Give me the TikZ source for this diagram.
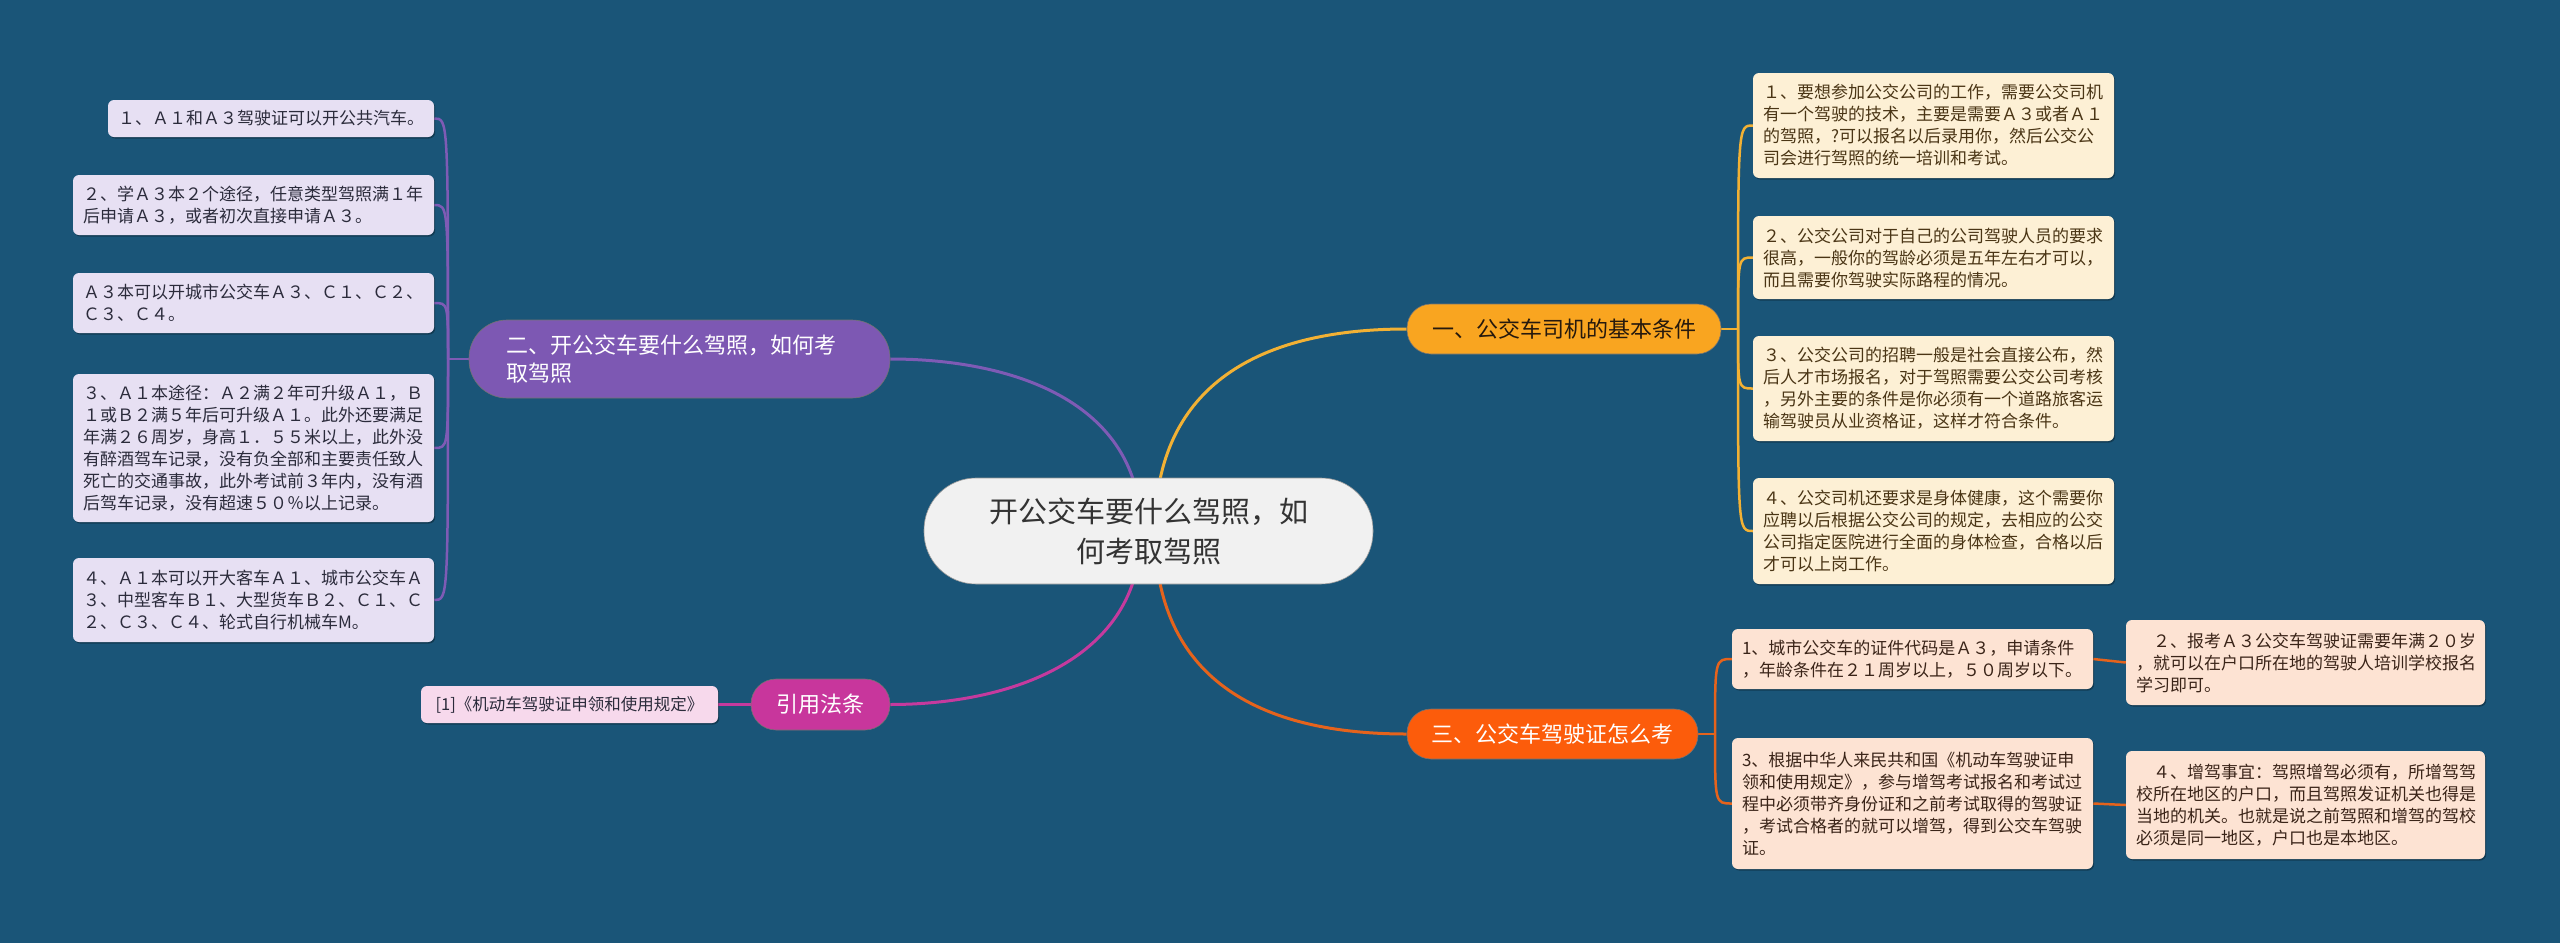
\documentclass[tikz,border=0pt]{standalone}
\usepackage{fontspec}
\setmainfont{Noto Sans CJK SC}
\usetikzlibrary{shadows}
\definecolor{bgc}{HTML}{1A5578}
\definecolor{lfill}{HTML}{E7E0F3}
\definecolor{rfill}{HTML}{FDF0D5}
\definecolor{tfill}{HTML}{FDE3D3}
\definecolor{reffill}{HTML}{F7D9EC}
\definecolor{ltext}{HTML}{2B2B3B}
\definecolor{rtext}{HTML}{4A3515}
\definecolor{ttext}{HTML}{3A2418}
\definecolor{cgold}{HTML}{F2B134}
\definecolor{corange}{HTML}{E5631C}
\definecolor{cpurple}{HTML}{7E5BB5}
\definecolor{cmag}{HTML}{C53A9E}
\definecolor{bgold}{HTML}{F9A520}
\definecolor{borange}{HTML}{FC5C0B}
\definecolor{bpurple}{HTML}{7D58B3}
\definecolor{bmag}{HTML}{C8369C}
\definecolor{cfill}{HTML}{F1F1F1}
\pgfdeclarelayer{bgrect}
\pgfdeclarelayer{edges}
\pgfsetlayers{bgrect,edges,main}
\begin{document}
\begin{tikzpicture}[x=1pt,y=-1pt,
  leafbase/.style={rectangle, rounded corners=6pt, inner xsep=10pt, inner ysep=3pt,
    align=left, font=\fontsize{17}{22}\selectfont,
    drop shadow={shadow xshift=1.2pt, shadow yshift=-1.5pt, opacity=0.3, fill=black}},
  lleaf/.style={leafbase, fill=lfill, text=ltext},
  rleaf/.style={leafbase, fill=rfill, text=rtext},
  tleaf/.style={leafbase, fill=tfill, text=ttext},
  branch/.style={rectangle, font=\fontsize{22}{28}\selectfont, inner sep=0pt, draw=black!55, line width=0.6pt},
  mainconn/.style={line width=3pt},
  subconn/.style={line width=2.5pt}
]
\useasboundingbox (0,0) rectangle (2560,943);
\begin{pgfonlayer}{bgrect}
  \fill[bgc] (0,0) rectangle (2560,943);
\end{pgfonlayer}

% center
\node[rectangle, rounded corners=52pt, fill=cfill, text=black!80, draw=black!40, line width=0.6pt,
  minimum width=449pt, minimum height=106pt, align=center,
  font=\fontsize{29}{40}\selectfont] (c) at (1148.5,531) {开公交车要什么驾照，如\\何考取驾照};

% branches
\node[branch, rounded corners=24pt, fill=bgold, text=black!80!brown, minimum width=314pt, minimum height=50pt]
  (b1) at (1564,329) {一、公交车司机的基本条件};
\node[branch, rounded corners=24pt, fill=borange, text=white, minimum width=291pt, minimum height=50pt]
  (b3) at (1552.5,734) {三、公交车驾驶证怎么考};
\node[branch, rounded corners=38pt, fill=bpurple, text=white, minimum width=421pt, minimum height=78pt,
  align=left, text width=347pt, inner xsep=37pt]
  (b2) at (679.5,359) {二、开公交车要什么驾照，如何考\\取驾照};
\node[branch, rounded corners=25pt, fill=bmag, text=white, minimum width=139pt, minimum height=51pt]
  (b4) at (820.5,704.5) {引用法条};
\node[leafbase, fill=reffill, text=ltext, font=\fontsize{16.5}{20}\selectfont, minimum width=297pt, minimum height=37pt]
  (ref1) at (569.5,704.5) {[1]《机动车驾驶证申领和使用规定》};

% left leaves
\node[lleaf, text width=306pt, minimum height=37pt] (L1) at (271,118.5) {１、Ａ１和Ａ３驾驶证可以开公共汽车。};
\node[lleaf, text width=341pt, minimum height=60pt] (L2) at (253.5,205) {２、学Ａ３本２个途径，任意类型驾照满１年\\后申请Ａ３，或者初次直接申请Ａ３。};
\node[lleaf, text width=341pt, minimum height=60pt] (L3) at (253.5,303) {Ａ３本可以开城市公交车Ａ３、Ｃ１、Ｃ２、\\Ｃ３、Ｃ４。};
\node[lleaf, text width=341pt, minimum height=148pt] (L4) at (253.5,448) {３、Ａ１本途径：Ａ２满２年可升级Ａ１，Ｂ\\１或Ｂ２满５年后可升级Ａ１。此外还要满足\\年满２６周岁，身高１．５５米以上，此外没\\有醉酒驾车记录，没有负全部和主要责任致人\\死亡的交通事故，此外考试前３年内，没有酒\\后驾车记录，没有超速５０％以上记录。};
\node[lleaf, text width=341pt, minimum height=84pt] (L5) at (253.5,600) {４、Ａ１本可以开大客车Ａ１、城市公交车Ａ\\３、中型客车Ｂ１、大型货车Ｂ２、Ｃ１、Ｃ\\２、Ｃ３、Ｃ４、轮式自行机械车M。};

% right leaves (一)
\node[rleaf, text width=341pt, minimum height=105pt] (R1) at (1933.5,125.5) {１、要想参加公交公司的工作，需要公交司机\\有一个驾驶的技术，主要是需要Ａ３或者Ａ１\\的驾照，?可以报名以后录用你，然后公交公\\司会进行驾照的统一培训和考试。};
\node[rleaf, text width=341pt, minimum height=83pt] (R2) at (1933.5,257.5) {２、公交公司对于自己的公司驾驶人员的要求\\很高，一般你的驾龄必须是五年左右才可以，\\而且需要你驾驶实际路程的情况。};
\node[rleaf, text width=341pt, minimum height=105pt] (R3) at (1933.5,388.5) {３、公交公司的招聘一般是社会直接公布，然\\后人才市场报名，对于驾照需要公交公司考核\\，另外主要的条件是你必须有一个道路旅客运\\输驾驶员从业资格证，这样才符合条件。};
\node[rleaf, text width=341pt, minimum height=106pt] (R4) at (1933.5,531) {４、公交司机还要求是身体健康，这个需要你\\应聘以后根据公交公司的规定，去相应的公交\\公司指定医院进行全面的身体检查，合格以后\\才可以上岗工作。};

% 三 leaves
\node[tleaf, text width=341pt, minimum height=60pt] (T1) at (1912.5,659) {1、城市公交车的证件代码是Ａ３，申请条件\\，年龄条件在２１周岁以上，５０周岁以下。};
\node[tleaf, text width=341pt, minimum height=131pt] (T3) at (1912.5,803.5) {3、根据中华人来民共和国《机动车驾驶证申\\领和使用规定》，参与增驾考试报名和考试过\\程中必须带齐身份证和之前考试取得的驾驶证\\，考试合格者的就可以增驾，得到公交车驾驶\\证。};
\node[tleaf, text width=339pt, minimum height=85pt] (T2) at (2305.5,662.5) {　２、报考Ａ３公交车驾驶证需要年满２０岁\\，就可以在户口所在地的驾驶人培训学校报名\\学习即可。};
\node[tleaf, text width=339pt, minimum height=108pt] (T4) at (2305.5,805) {　４、增驾事宜：驾照增驾必须有，所增驾驾\\校所在地区的户口，而且驾照发证机关也得是\\当地的机关。也就是说之前驾照和增驾的驾校\\必须是同一地区，户口也是本地区。};

% junctions
\coordinate (cL) at (1141,531);
\coordinate (cR) at (1155,531);
\coordinate (jL) at (448,359);
\coordinate (jR) at (1738,329);
\coordinate (jT) at (1715,734);

\begin{pgfonlayer}{edges}
  \draw[mainconn, cpurple] (cL) .. controls (1141,400) and (1010,359) .. (b2.east);
  \draw[mainconn, cmag] (cL) .. controls (1141,660) and (1010,704.5) .. (b4.east);
  \draw[mainconn, cgold] (cR) .. controls (1155,400) and (1240,329) .. (b1.west);
  \draw[mainconn, corange] (cR) .. controls (1155,660) and (1235,734) .. (b3.west);

  \draw[subconn, cpurple] (b2.west) -- (jL);
  \foreach \n/\y in {L1/118.5, L2/205, L3/303, L4/448, L5/600}
    \draw[subconn, cpurple] (jL) .. controls (448,\y) and (448,\y) .. (\n.east);

  \draw[subconn, cgold] (b1.east) -- (jR);
  \foreach \n/\y in {R1/125.5, R2/257.5, R3/388.5, R4/531}
    \draw[subconn, cgold] (jR) .. controls (1738,\y) and (1738,\y) .. (\n.west);

  \draw[subconn, corange] (b3.east) -- (jT);
  \foreach \n/\y in {T1/659, T3/803.5}
    \draw[subconn, corange] (jT) .. controls (1715,\y) and (1715,\y) .. (\n.west);
  \draw[subconn, corange] (T1.east) -- (T2.west);
  \draw[subconn, corange] (T3.east) -- (T4.west);

  \draw[subconn, cmag] (b4.west) -- (ref1.east);
\end{pgfonlayer}
\end{tikzpicture}
\end{document}
